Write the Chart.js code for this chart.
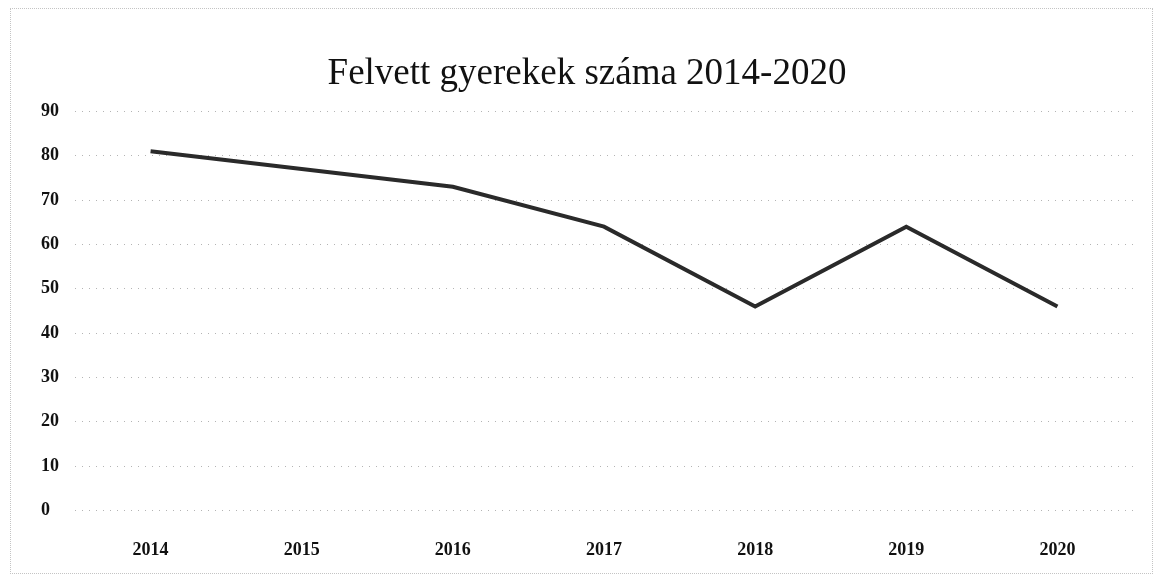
<!DOCTYPE html>
<html>
<head>
<meta charset="utf-8">
<script src="https://cdn.jsdelivr.net/npm/chart.js@4/dist/chart.umd.min.js"></script>
<style>
    html, body { margin: 0; padding: 0; background: #fff; }
    #wrap { position: relative; width: 1157px; height: 582px; }
    #frame { position: absolute; left: 10px; top: 8px; right: 4px; bottom: 8px; border: 1px dotted #c4c4c4; pointer-events: none; }
</style>
</head>
<body>
<div id="wrap">
    <canvas id="chart" width="1157" height="582"></canvas>
    <div id="frame"></div>
</div>
<script>
// Data
const years = ['2014', '2015', '2016', '2017', '2018', '2019', '2020'];
const admitted = [81, 77, 73, 64, 46, 64, 46];
const titleText = 'Felvett gyerekek száma 2014-2020';
const yMin = 0, yMax = 90, yStep = 10;

const serif = "'Liberation Serif', 'DejaVu Serif', serif";

const ctx = document.getElementById('chart').getContext('2d');

new Chart(ctx, {
    type: 'line',
    data: {
        labels: years,
        datasets: [{
            label: titleText,
            data: admitted,
            borderColor: '#2a2a2a',
            borderWidth: 4,
            pointRadius: 0,
            tension: 0,
            fill: false
        }]
    },
    options: {
        responsive: false,
        animation: false,
        layout: { padding: { top: 0, left: 41, right: 24, bottom: 0 } },
        plugins: {
            legend: { display: false },
            tooltip: { enabled: false },
            title: {
                display: true,
                text: titleText,
                color: '#111',
                font: { family: serif, size: 37, weight: 'normal' },
                padding: { top: 52, bottom: 15 }
            }
        },
        scales: {
            x: {
                offset: true,
                grid: { display: false },
                border: { display: false },
                ticks: {
                    color: '#111',
                    padding: 21,
                    maxRotation: 0,
                    font: { family: serif, size: 18, weight: 'bold' }
                }
            },
            y: {
                min: yMin,
                max: yMax,
                grid: {
                    color: '#b4b4b4',
                    lineWidth: 1,
                    drawTicks: false
                },
                border: { display: false, dash: [1, 6] },
                ticks: {
                    stepSize: yStep,
                    color: '#111',
                    padding: 8,
                    crossAlign: 'far',
                    font: { family: serif, size: 18, weight: 'bold' }
                }
            }
        }
    }
});
</script>
</body>
</html>
